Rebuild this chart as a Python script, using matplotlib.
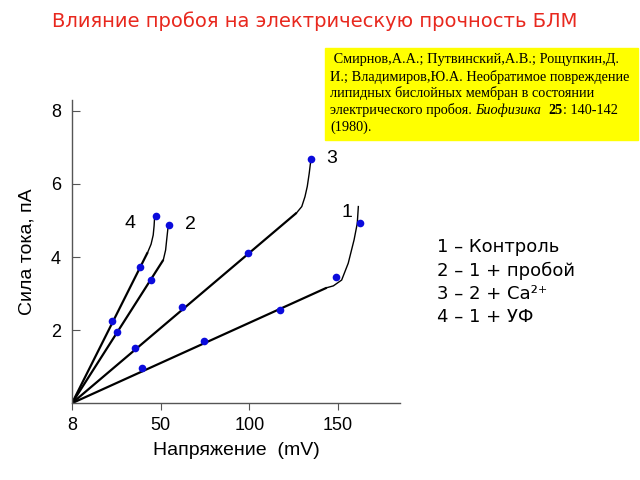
import matplotlib.pyplot as plt
from matplotlib.text import Annotation

# ── data ─────────────────────────────────────
# straight part: from origin to the end of the linear region
line_end = {
    "1": (143.7, 3.16),
    "2": (51.5, 3.92),
    "3": (126.7, 5.21),
    "4": (42.7, 4.13),
}
# bend (breakdown) part of each curve
bend_v = {
    "1": [143.7, 147.4, 152.1, 155.8, 159.1, 160.9, 161.5],
    "2": [51.5, 52.8, 53.4, 54.0, 54.3],
    "3": [126.7, 129.6, 131.4, 132.7, 133.8, 134.6],
    "4": [42.7, 44.6, 45.8, 46.3, 46.6],
}
bend_i = {
    "1": [3.16, 3.21, 3.37, 3.83, 4.47, 4.92, 5.38],
    "2": [3.92, 4.19, 4.47, 4.74, 4.88],
    "3": [5.21, 5.38, 5.65, 5.93, 6.29, 6.61],
    "4": [4.13, 4.35, 4.60, 4.85, 5.10],
}
# measured points
pts_v = {
    "1": [39.3, 74.3, 117.3, 148.7, 162.4],
    "2": [25.2, 44.4, 54.7],
    "3": [35.4, 62.0, 99.3, 134.6],
    "4": [22.7, 38.2, 47.2],
}
pts_i = {
    "1": [0.97, 1.70, 2.55, 3.44, 4.93],
    "2": [1.96, 3.36, 4.88],
    "3": [1.51, 2.63, 4.11, 6.68],
    "4": [2.25, 3.73, 5.13],
}
label_pos = {
    "1": (154.9, 5.21),
    "2": (66.6, 4.88),
    "3": (146.5, 6.70),
    "4": (32.7, 4.92),
}

x_ticks = [0, 50, 100, 150]
x_ticklabels = ["8", "50", "100", "150"]
y_ticks = [2, 4, 6, 8]

legend_lines = ["1 – Контроль", "2 – 1 + пробой", "3 – 2 + Ca²⁺", "4 – 1 + УФ"]

ref_lines = [
    " Смирнов,А.А.; Путвинский,А.В.; Рощупкин,Д.",
    "И.; Владимиров,Ю.А. Необратимое повреждение",
    "липидных бислойных мембран в состоянии",
]

# ── figure ───────────────────────────────────
plt.rcParams["font.family"] = ["Liberation Sans", "DejaVu Sans"]

fig = plt.figure(figsize=(6.4, 4.8), dpi=100)
fig.patch.set_facecolor("white")
ax = fig.add_axes([0.1125, 0.160, 0.5125, 0.632])
ax.patch.set_alpha(0)

for k in ["1", "2", "3", "4"]:
    ve, ie = line_end[k]
    ax.plot([0, ve], [0, ie], color="black", lw=1.6, solid_capstyle="butt")
    ax.plot(bend_v[k], bend_i[k], color="black", lw=1.0)
    ax.plot(pts_v[k], pts_i[k], "o", color="#0b0bdc", ms=5.5, mec="none")
    lx, ly = label_pos[k]
    ax.text(lx, ly, k, fontsize=14, ha="center", va="center")

ax.set_xlim(0, 185)
ax.set_ylim(0, 8.3)
for s in ["top", "right"]:
    ax.spines[s].set_visible(False)
for s in ["left", "bottom"]:
    ax.spines[s].set_color("#555555")
    ax.spines[s].set_linewidth(1.0)

ax.set_xticks(x_ticks)
ax.set_xticklabels(x_ticklabels)
ax.set_yticks(y_ticks)
ax.tick_params(axis="x", direction="out", length=5, labelsize=13, pad=5,
               color="#555555")
ax.tick_params(axis="y", direction="in", length=6, labelsize=13, pad=8,
               color="#555555")
ax.set_xlabel("Напряжение  (mV)", fontsize=14, labelpad=6)
ax.set_ylabel("Сила тока, пА", fontsize=14, labelpad=11)

# title
fig.text(0.081, 0.955, "Влияние пробоя на электрическую прочность БЛМ",
         color="#e8281e", fontsize=14, ha="left", va="center",
         family=["DejaVu Sans"])

# reference box
box = plt.Rectangle((325 / 640, 1 - 140 / 480), 313 / 640, 92 / 480,
                    transform=fig.transFigure, color="#ffff00", zorder=-1)
fig.add_artist(box)
serif = ["Liberation Serif", "DejaVu Serif"]
fs = 10.3
y0 = 1 - 60 / 480
dy = 16.7 / 480
for i, s in enumerate(ref_lines):
    fig.text(330 / 640, y0 - i * dy, s, fontsize=fs, family=serif,
             ha="left", va="center")
t = fig.text(330 / 640, y0 - 3 * dy, "электрического пробоя. ", fontsize=fs,
             family=serif, ha="left", va="center")
for piece, kw in [("Биофизика  ", {"style": "italic"}),
                  ("25", {"weight": "bold"}),
                  (": 140-142", {})]:
    a = Annotation(piece, xy=(1, 0), xycoords=t, va="bottom", ha="left",
                   fontsize=fs, family=serif, **kw)
    fig.add_artist(a)
    t = a
fig.text(330 / 640, y0 - 4 * dy, "(1980).", fontsize=fs, family=serif,
         ha="left", va="center")

# legend text
for i, s in enumerate(legend_lines):
    fig.text(437 / 640, 1 - (247 + i * 23.5) / 480, s, fontsize=13,
             ha="left", va="center", family=["DejaVu Sans"])

fig.savefig("out.png", dpi=100)
